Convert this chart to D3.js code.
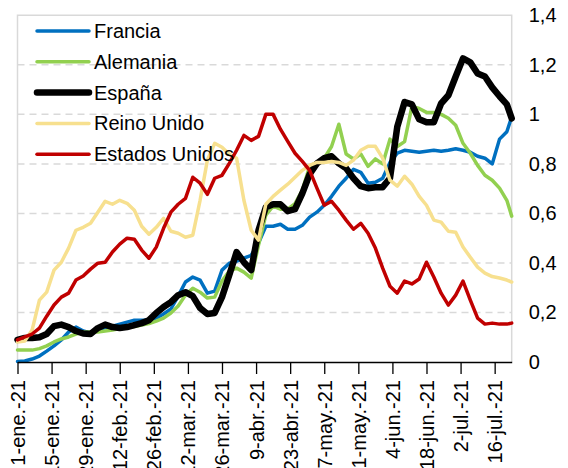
<!DOCTYPE html>
<html lang="es">
<head>
<meta charset="UTF-8">
<title>Evolución 2021</title>
<script src="https://d3js.org/d3.v7.min.js"></script>
<style>
  html, body { margin: 0; padding: 0; background: #fff; }
  svg { display: block; font-family: "Liberation Sans", Arial, sans-serif; }
  .grid line { stroke: #d9d9d9; stroke-width: 1.5; stroke-dasharray: 7,5; }
  .serie { fill: none; stroke-linejoin: round; stroke-linecap: round; }
</style>
</head>
<body>
<script>
// days since 1 Jan 2021 for every point
const days = [0,3,6,9,12,15,18,21,24,27,30,33,36,39,42,45,48,51,54,57,60,63,66,69,72,75,78,81,84,87,90,93,96,99,
  102,105,108,111,114,117,120,123,126,129,132,135,138,141,144,147,150,153,156,159,162,165,168,171,174,177,180,183,186,189,192,195,198,201,203];

const francia = [0.002,0.004,0.012,0.024,0.044,0.065,0.089,0.121,0.141,0.125,0.117,0.129,0.139,0.145,0.153,0.161,0.169,0.169,0.169,0.177,
  0.194,0.214,0.266,0.323,0.343,0.331,0.278,0.286,0.371,0.399,0.407,0.419,0.431,0.48,0.548,0.548,0.556,0.536,0.536,0.552,
  0.585,0.605,0.633,0.669,0.71,0.742,0.778,0.766,0.722,0.726,0.742,0.806,0.843,0.855,0.851,0.847,0.851,0.855,0.851,0.855,
  0.861,0.855,0.847,0.831,0.823,0.80,0.90,0.93,0.99];
const alemania = [0.048,0.048,0.048,0.054,0.065,0.081,0.093,0.101,0.113,0.121,0.121,0.121,0.125,0.129,0.135,0.139,0.143,0.149,0.155,0.165,
  0.177,0.198,0.226,0.27,0.298,0.282,0.258,0.262,0.327,0.367,0.379,0.363,0.339,0.472,0.593,0.629,0.617,0.617,0.64,0.694,
  0.79,0.806,0.823,0.87,0.96,0.84,0.82,0.84,0.79,0.82,0.80,0.90,0.87,0.89,1.032,1.024,1.008,1.008,1.0,0.984,
  0.956,0.883,0.843,0.794,0.754,0.734,0.702,0.653,0.589];
const espana = [0.089,0.097,0.097,0.10,0.113,0.145,0.151,0.141,0.125,0.115,0.113,0.137,0.151,0.141,0.137,0.141,0.149,0.157,0.169,0.198,
  0.222,0.242,0.27,0.282,0.266,0.218,0.194,0.198,0.262,0.351,0.444,0.403,0.371,0.532,0.625,0.637,0.637,0.609,0.617,0.681,
  0.758,0.802,0.823,0.831,0.802,0.782,0.742,0.71,0.702,0.706,0.706,0.742,0.95,1.05,1.04,0.98,0.968,0.968,1.044,1.077,
  1.153,1.226,1.21,1.165,1.153,1.109,1.073,1.04,0.984];
const reinoUnido = [0.081,0.085,0.129,0.25,0.282,0.371,0.403,0.46,0.532,0.544,0.56,0.605,0.649,0.637,0.653,0.641,0.613,0.548,0.516,0.544,
  0.58,0.528,0.52,0.504,0.512,0.653,0.815,0.883,0.867,0.839,0.823,0.653,0.532,0.492,0.637,0.669,0.694,0.718,0.746,0.774,
  0.794,0.806,0.806,0.81,0.806,0.794,0.815,0.855,0.871,0.871,0.823,0.734,0.71,0.75,0.718,0.669,0.633,0.573,0.565,0.528,
  0.524,0.464,0.423,0.383,0.359,0.345,0.339,0.331,0.323];
const estadosUnidos = [0.089,0.101,0.113,0.137,0.185,0.23,0.262,0.278,0.331,0.347,0.375,0.399,0.403,0.444,0.476,0.5,0.496,0.452,0.419,0.464,
  0.54,0.605,0.637,0.661,0.746,0.722,0.677,0.742,0.754,0.802,0.855,0.915,0.895,0.911,1.0,1.0,0.94,0.891,0.843,0.81,
  0.774,0.702,0.633,0.649,0.613,0.573,0.536,0.56,0.52,0.46,0.379,0.306,0.278,0.327,0.315,0.335,0.403,0.343,0.278,0.23,
  0.27,0.327,0.25,0.177,0.153,0.157,0.153,0.153,0.157];

const seriesNames = ["Francia", "Alemania", "España", "Reino Unido", "Estados Unidos"];
const seriesColors = ["#0070c0", "#92d050", "#000000", "#f7e08f", "#c00000"];
const seriesWidths = [3.5, 3.5, 6.5, 3.5, 3.5];

const tickDays = [0,14,28,42,56,70,84,98,112,126,140,154,168,182,196];
const tickLabels = ["1-ene.-21","15-ene.-21","29-ene.-21","12-feb.-21","26-feb.-21","12-mar.-21","26-mar.-21",
  "9-abr.-21","23-abr.-21","7-may.-21","21-may.-21","4-jun.-21","18-jun.-21","2-jul.-21","16-jul.-21"];
const yTicks = [0, 0.2, 0.4, 0.6, 0.8, 1, 1.2, 1.4];
const yLabels = ["0","0,2","0,4","0,6","0,8","1","1,2","1,4"];

const width = 568, height = 468;
const plotLeft = 17.5, plotRight = 511.7, plotTop = 15.3, plotBottom = 362;

const start = new Date(Date.UTC(2021, 0, 1));
const toDate = d => d3.utcDay.offset(start, d);

const x = d3.scaleUtc().domain([start, toDate(203)]).range([plotLeft, plotRight]);
const y = d3.scaleLinear().domain([0, 1.4]).range([plotBottom, plotTop]);

const svg = d3.select("body").append("svg")
  .attr("width", width)
  .attr("height", height);

// gridlines
svg.append("g").attr("class", "grid")
  .selectAll("line")
  .data(yTicks.filter(v => v > 0 && v < 1.4))
  .join("line")
  .attr("x1", plotLeft).attr("x2", plotRight)
  .attr("y1", d => y(d)).attr("y2", d => y(d));

// plot frame (left, top, right)
svg.append("path")
  .attr("d", `M${plotLeft},${plotBottom}V${plotTop}H${plotRight}V${plotBottom}`)
  .attr("fill", "none")
  .attr("stroke", "#d9d9d9")
  .attr("stroke-width", 1.5);

// series
const allSeries = [francia, alemania, espana, reinoUnido, estadosUnidos];
const line = d3.line()
  .x((d, i) => x(toDate(days[i])))
  .y(d => y(d));

svg.append("g")
  .selectAll("path")
  .data(allSeries)
  .join("path")
  .attr("class", "serie")
  .attr("stroke", (d, i) => seriesColors[i])
  .attr("stroke-width", (d, i) => seriesWidths[i])
  .attr("d", line);

// x axis
const xAxis = svg.append("g")
  .attr("transform", `translate(0,${plotBottom})`)
  .call(d3.axisBottom(x)
    .tickValues(tickDays.map(toDate))
    .tickFormat((d, i) => tickLabels[i])
    .tickSize(12)
    .tickSizeOuter(0));
xAxis.select(".domain").attr("stroke", "#000").attr("stroke-width", 1.5);
xAxis.selectAll(".tick line").attr("stroke", "#000").attr("stroke-width", 1.3);
xAxis.selectAll(".tick text")
  .attr("font-size", 20)
  .attr("font-family", "Liberation Sans, Arial, sans-serif")
  .attr("fill", "#000")
  .attr("text-anchor", "end")
  .attr("transform", "translate(0,18) rotate(-90)")
  .attr("x", 0)
  .attr("y", 0)
  .attr("dy", "0.35em");

// y axis on the right
const yAxis = svg.append("g")
  .attr("transform", `translate(${plotRight},0)`)
  .call(d3.axisRight(y)
    .tickValues(yTicks)
    .tickFormat((d, i) => yLabels[i])
    .tickSize(0)
    .tickPadding(17));
yAxis.select(".domain").remove();
yAxis.selectAll(".tick text")
  .attr("font-size", 20)
  .attr("font-family", "Liberation Sans, Arial, sans-serif")
  .attr("fill", "#000");

// legend
const legend = svg.append("g")
  .selectAll("g")
  .data(seriesNames)
  .join("g")
  .attr("transform", (d, i) => `translate(0,${31 + i * 30.8})`);
legend.append("line")
  .attr("x1", 37).attr("x2", 89)
  .attr("stroke", (d, i) => seriesColors[i])
  .attr("stroke-width", (d, i) => seriesWidths[i])
  .attr("stroke-linecap", "round");
legend.append("text")
  .attr("x", 94)
  .attr("dy", "0.35em")
  .attr("font-size", 20)
  .text(d => d);
</script>
</body>
</html>
